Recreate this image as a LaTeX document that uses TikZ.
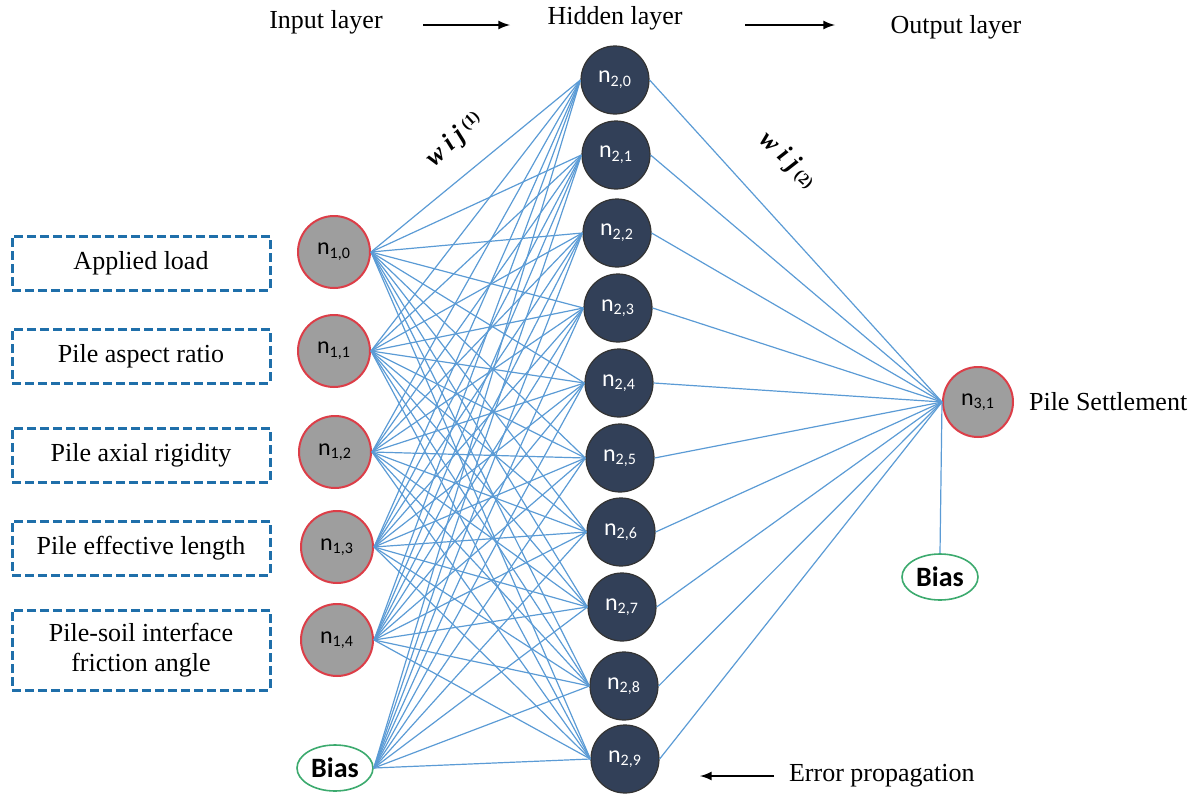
\documentclass[tikz,border=0pt]{standalone}
\usepackage{fontspec}
\setmainfont{Liberation Serif}
\newfontfamily\calibri{Carlito}
\usetikzlibrary{shapes.geometric}

\definecolor{linkblue}{RGB}{91,155,213}
\definecolor{hidnavy}{RGB}{50,64,88}
\definecolor{inpgray}{RGB}{158,158,158}
\definecolor{inpred}{RGB}{220,62,72}
\definecolor{biasgreen}{RGB}{60,170,110}
\definecolor{boxblue}{RGB}{31,111,170}

\begin{document}
\begin{tikzpicture}[>=latex, x=0.5pt, y=-0.5pt,
    inp/.style={circle, draw=inpred, fill=inpgray, line width=1pt,
      minimum size=36pt, inner sep=0pt, font=\calibri\fontsize{12}{14}\selectfont},
    hid/.style={circle, draw=black!80, fill=hidnavy, text=white, line width=0.6pt,
      minimum size=34pt, inner sep=0pt, font=\calibri\fontsize{12}{14}\selectfont},
    biasnode/.style={ellipse, draw=biasgreen, fill=white, line width=0.8pt,
      minimum width=38pt, minimum height=23pt, inner sep=0pt,
      font=\calibri\bfseries\fontsize{14}{16}\selectfont},
    inbox/.style={draw=boxblue, line width=1.5pt, dash pattern=on 4.5pt off 2pt,
      minimum width=129pt, minimum height=27pt, align=center,
      font=\fontsize{13}{15}\selectfont},
    lbl/.style={font=\fontsize{13}{15}\selectfont},
    wlbl/.style={font=\fontsize{13}{15}\selectfont\bfseries\itshape, inner sep=1pt},
    link/.style={draw=linkblue, line width=0.6pt}]

    % Canvas
    \useasboundingbox (0,0) rectangle (1195,798);

    % Layer titles
    \node[lbl] (inlbl) at (326,22) {Input layer};
    \node[lbl] (hidlbl) at (615,18) {Hidden layer};
    \node[lbl] (outlbl) at (956,27) {Output layer};
    \coordinate (a1s) at (423,25);
    \coordinate (a1e) at (510,25);
    \coordinate (a2s) at (745,25);
    \coordinate (a2e) at (835,25);
    \draw[->, line width=1pt] (a1s) -- (a1e);
    \draw[->, line width=1pt] (a2s) -- (a2e);

    % Input parameters
    \node[inbox] (p0) at (141,263) {Applied load};
    \node[inbox] (p1) at (141,356) {Pile aspect ratio};
    \node[inbox] (p2) at (141,455) {Pile axial rigidity};
    \node[inbox] (p3) at (141,548) {Pile effective length};
    \node[inbox, minimum height=40pt] (p4) at (141,650) {Pile-soil interface\\friction angle};

    % Input layer
    \foreach \i/\x/\y in {0/334/252, 1/334/351, 2/335/452, 3/337/547, 4/337/640}
      \node[inp] (in\i) at (\x,\y) {n\textsubscript{1,\i}};
    \node[biasnode] (bias1) at (335,768) {Bias};

    % Hidden layer
    \foreach \j/\x/\y in {0/615/80, 1/616/155, 2/617/233, 3/618/308, 4/619/383,
                          5/620/458, 6/621/532, 7/622/607, 8/624/686, 9/625/759}
      \node[hid] (h\j) at (\x,\y) {n\textsubscript{2,\j}};

    % Output layer
    \node[inp, minimum size=35pt] (out) at (978,402) {n\textsubscript{3,1}};
    \node[lbl, anchor=west] (outname) at (1022,402) {Pile Settlement};
    \node[biasnode] (bias2) at (940,577) {Bias};

    % Weights
    \foreach \j in {0,...,9} {
      \foreach \i in {0,...,4}
        \draw[link] (in\i.east) -- (h\j.west);
      \draw[link] (bias1.east) -- (h\j.west);
      \draw[link] (h\j.east) -- (out.west);
    }
    \draw[link] (out.west) -- (bias2.north);

    % Weight labels
    \node[wlbl, rotate=42] (w1) at (455,140) {w~i~j\,\raisebox{0.5ex}{\upshape\footnotesize(1)}};
    \node[wlbl, rotate=-42] (w2) at (788,160) {w~i~j\,\raisebox{-0.2ex}{\upshape\footnotesize(2)}};

    % Error propagation
    \node[lbl, anchor=west] (errlbl) at (782,776) {Error propagation};
    \coordinate (errtip) at (700,776);
    \draw[->, line width=1pt] ([xshift=-4pt]errlbl.west) -- (errtip);
\end{tikzpicture}
\end{document}
